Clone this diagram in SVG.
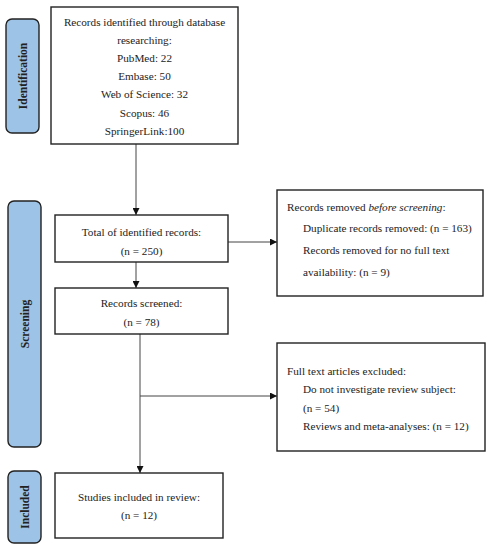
<svg xmlns="http://www.w3.org/2000/svg" width="490" height="550" viewBox="0 0 490 550">
<style>
.box{fill:#fff;stroke:#222;stroke-width:1.4}
.lab{fill:#9dc3e6;stroke:#222;stroke-width:1.4}
.t{font-family:"Liberation Serif","DejaVu Serif",serif;font-size:11.2px;fill:#222}
.c{text-anchor:middle}
.lt{font-family:"Liberation Serif","DejaVu Serif",serif;font-size:11.5px;font-weight:bold;fill:#222;text-anchor:middle}
.ln{fill:none;stroke:#444;stroke-width:1}
</style>
<defs>
<marker id="ah" viewBox="0 0 10 10" refX="10" refY="5" markerWidth="7" markerHeight="7" orient="auto" markerUnits="userSpaceOnUse">
<path d="M0,0 L10,5 L0,10 z" fill="#111"/>
</marker>
</defs>
<rect width="490" height="550" fill="#fff"/>
<g id="label-identification">
<rect class="lab" x="6" y="19" width="33" height="114" rx="6"/>
<text class="lt" transform="translate(26.5,76) rotate(-90)">Identification</text>
</g>
<g id="label-screening">
<rect class="lab" x="8" y="201" width="33" height="246" rx="6"/>
<text class="lt" transform="translate(28.5,324) rotate(-90)">Screening</text>
</g>
<g id="label-included">
<rect class="lab" x="8" y="471" width="33" height="72" rx="6"/>
<text class="lt" transform="translate(28.5,507) rotate(-90)">Included</text>
</g>
<g id="connectors">
<line class="ln" x1="136" y1="144" x2="136" y2="215" marker-end="url(#ah)"/>
<line class="ln" x1="228" y1="242" x2="277" y2="242" marker-end="url(#ah)"/>
<line class="ln" x1="136" y1="262" x2="136" y2="288" marker-end="url(#ah)"/>
<line class="ln" x1="140" y1="334" x2="140" y2="473" marker-end="url(#ah)"/>
<line class="ln" x1="140" y1="396" x2="277" y2="396" marker-end="url(#ah)"/>
</g>
<g id="records-identified">
<rect class="box" x="51" y="7" width="187" height="137"/>
<text class="t c" x="144.5" y="26">Records identified through database</text>
<text class="t c" x="144.5" y="44">researching:</text>
<text class="t c" x="144.5" y="62">PubMed: 22</text>
<text class="t c" x="144.5" y="80">Embase: 50</text>
<text class="t c" x="144.5" y="98">Web of Science: 32</text>
<text class="t c" x="144.5" y="117">Scopus: 46</text>
<text class="t c" x="144.5" y="135">SpringerLink:100</text>
</g>
<g id="total-identified">
<rect class="box" x="55" y="215" width="173" height="47"/>
<text class="t c" x="141.5" y="236">Total of identified records:</text>
<text class="t c" x="141.5" y="255">(n = 250)</text>
</g>
<g id="records-screened">
<rect class="box" x="55" y="288" width="173" height="46"/>
<text class="t c" x="141.5" y="307">Records screened:</text>
<text class="t c" x="141.5" y="326">(n = 78)</text>
</g>
<g id="records-removed">
<rect class="box" x="277" y="190" width="206" height="106"/>
<text class="t" x="287" y="211">Records removed <tspan font-style="italic">before screening</tspan>:</text>
<text class="t" x="303" y="232">Duplicate records removed: (n = 163)</text>
<text class="t" x="303" y="254">Records removed for no full text</text>
<text class="t" x="303" y="276">availability: (n = 9)</text>
</g>
<g id="full-text-excluded">
<rect class="box" x="277" y="343" width="208" height="108"/>
<text class="t" x="287" y="375">Full text articles excluded:</text>
<text class="t" x="303" y="393">Do not investigate review subject:</text>
<text class="t" x="303" y="412">(n = 54)</text>
<text class="t" x="303" y="430">Reviews and meta-analyses: (n = 12)</text>
</g>
<g id="studies-included">
<rect class="box" x="55" y="473" width="168" height="65"/>
<text class="t c" x="139" y="501">Studies included in review:</text>
<text class="t c" x="139" y="519">(n = 12)</text>
</g>
</svg>
